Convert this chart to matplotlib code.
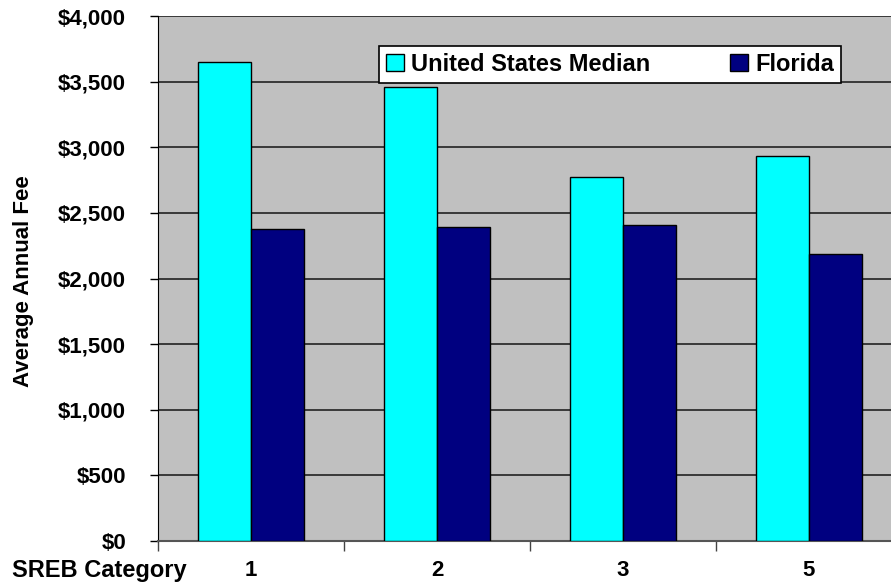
import matplotlib.pyplot as plt
import numpy as np

# SREB category fee data
categories = ['1', '2', '3', '5']
us_median = [3650, 3460, 2770, 2930]
florida = [2375, 2395, 2410, 2190]
y_ticks = [0, 500, 1000, 1500, 2000, 2500, 3000, 3500, 4000]
y_tick_labels = ['$0', '$500', '$1,000', '$1,500', '$2,000', '$2,500', '$3,000', '$3,500', '$4,000']

plt.rcParams['font.family'] = ['Liberation Sans', 'DejaVu Sans']
plt.rcParams['font.weight'] = 'bold'
plt.rcParams['font.size'] = 16

fig = plt.figure(figsize=(8.91, 5.84), dpi=100)
W, H = 891, 584
# plot area runs past the right edge of the figure
ax = fig.add_axes([158 / W, 43 / H, 744 / W, 525 / H])
ax.set_facecolor('#C0C0C0')

x = np.arange(len(categories))
bw = 0.285
ax.bar(x - bw / 2, us_median, bw, color='#00FFFF', edgecolor='black', linewidth=1,
       label='United States Median', zorder=3)
ax.bar(x + bw / 2, florida, bw, color='#000080', edgecolor='black', linewidth=1,
       label='Florida', zorder=3)

ax.set_xlim(-0.5, len(categories) - 0.5)
ax.set_ylim(0, 4000)
ax.set_yticks(y_ticks)
ax.set_yticklabels(y_tick_labels)
ax.yaxis.grid(True, color='#222222', linewidth=1.2, zorder=1)
ax.tick_params(axis='y', direction='out', length=6, width=1, pad=17)

# boundaries get tick marks, centers get the labels
ax.set_xticks(np.arange(len(categories) + 1) - 0.5)
ax.set_xticklabels([])
ax.tick_params(axis='x', which='major', direction='out', length=7, width=1, color='#444444')
ax.set_xticks(x, minor=True)
ax.set_xticklabels(categories, minor=True)
ax.tick_params(axis='x', which='minor', length=0, pad=14)

for s in ['top', 'right']:
    ax.spines[s].set_visible(False)
ax.spines['left'].set_color('black')
ax.spines['bottom'].set_color('#555555')
ax.spines['bottom'].set_linewidth(1.5)

fig.text(24 / W, 1 - 281 / H, 'Average Annual Fee', rotation=90, ha='center', va='center',
         fontsize=16)
fig.text(12 / W, 1 - 570 / H, 'SREB Category', ha='left', va='center', fontsize=17)

leg = ax.legend(loc='upper left', bbox_to_anchor=(379 / W, 1 - 46 / H),
                bbox_transform=fig.transFigure, ncol=2, frameon=True, fancybox=False,
                shadow=False, edgecolor='black', framealpha=1, handlelength=0.75,
                handleheight=0.75, handletextpad=0.3, columnspacing=3.4,
                borderpad=0.3, borderaxespad=0, fontsize=17)
leg.get_frame().set_linewidth(1.2)

fig.savefig('out.png', dpi=100)
